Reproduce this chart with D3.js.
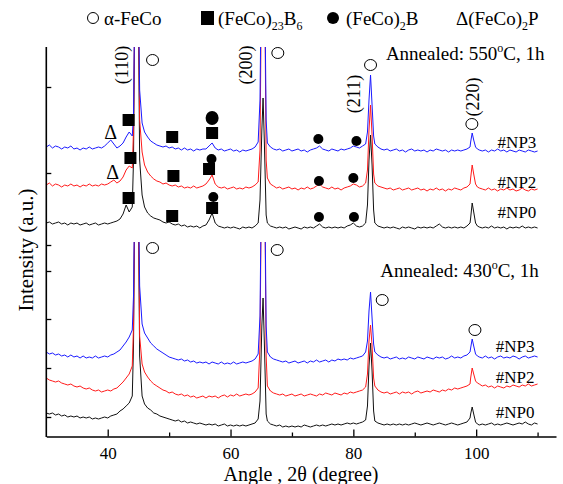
<!DOCTYPE html>
<html><head><meta charset="utf-8">
<script src="https://cdn.jsdelivr.net/npm/d3@7"></script>
<style>
body{margin:0;background:#fff}
svg{display:block}
text{font-family:"Liberation Serif","Times New Roman",serif;fill:#000}
</style>
</head><body><svg id="chart" width="563" height="484"></svg>
<script>
// ---- DATA ----
const angles = [
 30,30.5,31,31.5,32,32.5,33,33.5,34,34.5,35,35.5,36,36.5,37,37.5,38,38.5,39,39.5,40,40.5,41,41.5,42,42.5,43,43.5,44,
 44.2,44.5,44.7,44.9,45.2,45.6,
 46,46.5,47,47.5,48,48.5,49,49.5,50,50.5,51,51.5,52,52.5,53,53.5,54,54.5,55,55.5,56,56.5,57,57.5,58,58.5,59,59.5,60,60.5,61,61.5,62,62.5,63,63.5,64,64.5,
 64.8,65.1,65.3,65.5,65.8,
 66,66.5,67,67.5,68,68.5,69,69.5,70,70.5,71,71.5,72,72.5,73,73.5,74,74.5,75,75.5,76,76.5,77,77.5,78,78.5,79,79.5,80,80.5,81,81.5,82,
 82.3,82.55,82.8,83.05,83.3,
 83.5,84,84.5,85,85.5,86,86.5,87,87.5,88,88.5,89,89.5,90,90.5,91,91.5,92,92.5,93,93.5,94,94.5,95,95.5,96,96.5,97,97.5,98,98.5,99,
 99.1,99.35,99.6,99.9,100.2,
 100.5,101,101.5,102,102.5,103,103.5,104,104.5,105,105.5,106,106.5,107,107.5,108,108.5,109,109.5,110
];

// Annealed 550 °C (upper panel), stacked intensities (a.u.)
const np3_550 = [
 93,95,92,94,93,91,93,92,94,91, 92,90,92,91,93,91,92,93,92,94, 97,100,96,92,94,97,103,108,104,
 125,300,400,300,150,117,
 108,103,99,97,95,94,93,94,92,93, 91,92,90,92,90,91,89,91,90,91, 91,94,97,92,90,91,89,90,91,89, 90,88,90,89,90,91,93,98,
 140,320,400,300,120,
 97,93,91,90,91,89,90,91,89,90, 91,89,90,88,90,91,92,94,91,90, 89,91,90,89,91,90,91,92,94,93, 92,94,96,
 108,140,165,135,104,
 96,93,91,90,91,89,90,91,89,90, 88,90,91,89,90,89,90,88,90,89, 91,90,89,90,88,90,89,90,89,90, 91,93,
 98,107,100,93,91,
 90,89,90,88,90,89,91,89,90,88, 90,89,88,90,89,88,90,89,88,89
];
const np2_550 = [
 55,57,54,56,55,53,55,54,56,54, 55,53,55,54,56,54,55,54,56,55, 56,58,60,57,59,63,70,74,72,
 110,300,400,300,120,88,
 75,68,64,61,59,58,56,57,55,54, 55,53,54,52,53,52,54,52,53,54, 56,60,65,56,53,52,53,51,52,53, 51,52,51,53,52,53,55,58,
 90,300,400,300,80,
 62,56,54,52,53,51,52,53,51,52, 50,52,51,53,51,52,54,56,53,52, 51,53,51,52,50,52,53,54,56,55, 53,54,57,
 70,110,135,105,66,
 57,54,53,52,51,52,50,51,52,50, 51,52,50,51,52,50,51,49,51,50, 52,50,51,49,51,50,52,51,50,52, 53,56,
 62,75,66,56,53,
 52,51,50,52,50,51,49,51,50,52, 50,51,49,50,52,50,49,51,50,51
];
const np0_550 = [
 17,18,16,17,18,16,17,15,17,16, 17,15,16,17,15,16,17,15,16,17, 16,17,18,19,21,26,35,28,33,
 80,300,400,300,80,45,
 33,27,24,22,21,20,18,17,18,16, 15,16,14,15,13,14,13,14,12,14, 15,20,27,17,14,13,12,13,12,13, 12,11,13,12,13,12,14,17,
 40,110,142,100,25,
 17,14,13,12,13,12,13,11,12,13, 12,11,13,12,13,12,14,16,13,12, 13,12,13,12,13,12,14,15,17,14, 13,14,17,
 35,80,105,75,30,
 17,14,13,12,13,12,13,12,11,13, 12,13,12,11,13,12,13,12,13,12, 14,16,13,12,13,12,13,12,13,12, 14,17,
 22,37,28,17,14,
 13,12,13,12,14,12,13,12,13,11, 13,12,13,12,14,12,13,12,13,12
];

// Annealed 430 °C (lower panel)
const np3_430 = [
 84,82,83,81,82,80,81,79,81,79, 80,78,80,78,79,78,80,78,79,80, 79,81,82,84,86,90,94,99,106,
 140,300,400,300,150,112,
 103,98,93,90,87,85,83,81,79,78, 77,76,77,75,76,74,75,73,74,73, 74,72,74,73,72,74,72,73,72,74, 72,73,74,73,74,75,77,82,
 120,300,400,300,110,
 84,79,77,76,75,74,75,73,74,75, 73,74,75,73,75,74,76,74,75,76, 74,76,75,77,76,77,76,78,77,78, 79,80,84,
 95,125,144,118,92,
 84,81,79,78,79,77,78,79,77,78, 77,79,78,77,79,78,77,79,78,77, 79,78,79,77,78,80,78,79,78,80, 81,84,
 88,97,90,82,80,
 79,78,80,78,79,77,79,80,78,79, 78,80,79,77,79,80,78,79,80,79
];
const np2_430 = [
 58,56,55,54,55,53,52,51,52,50, 49,50,48,47,48,46,45,46,44,45, 46,45,47,48,51,54,58,62,70,
 110,300,400,300,100,72,
 64,59,55,52,50,48,46,45,43,44, 42,41,42,40,41,39,40,38,39,40, 38,40,39,40,38,40,41,39,41,40, 42,40,41,42,41,42,44,48,
 90,300,400,300,80,
 50,45,43,42,41,42,40,41,42,40, 41,42,40,41,42,41,40,42,41,43, 42,41,43,42,41,43,42,44,43,44, 45,46,49,
 62,95,111,90,58,
 50,46,44,43,44,42,43,44,42,44, 43,44,42,44,45,43,44,45,44,46, 45,44,46,45,47,46,48,47,48,49, 50,52,
 58,68,62,55,53,
 52,50,51,49,50,48,50,49,48,50, 49,51,50,49,51,50,52,50,51,52
];
const np0_430 = [
 23,22,23,21,22,20,21,19,20,19, 20,18,19,18,19,17,18,17,18,19, 18,20,21,22,25,27,30,33,40,
 90,300,400,300,80,40,
 32,28,26,23,22,20,19,18,17,16, 15,16,14,15,13,14,13,12,13,12, 11,12,11,12,10,11,12,10,11,10, 11,10,11,10,11,12,13,17,
 35,110,138,95,22,
 15,12,11,10,11,9,10,9,10,9, 10,9,11,10,9,10,11,10,11,10, 11,12,11,12,11,12,13,12,13,12, 13,14,16,
 30,70,93,65,25,
 15,13,12,11,12,11,12,11,12,11, 12,11,12,13,12,11,12,13,12,11, 12,13,12,11,12,13,12,11,12,13, 14,18,
 22,29,22,14,12,
 11,12,11,12,13,11,12,11,12,13, 12,11,12,13,12,14,12,11,13,12
];

const sampleNames = ["#NP3", "#NP2", "#NP0"];
const seriesColors = ["#1a1aff", "#ff1a1a", "#111111"];
const xMajorTicks = [40, 60, 80, 100];
const xMinorTicks = [50, 70, 90, 110];
const yTicksTop = [67, 153];
const yTicksBottom = [19, 68, 117, 165, 191];

// annotations (angle, intensity level)
const hklLabels = ["(110)", "(200)", "(211)", "(220)"];
const hklAngles = [42.3, 62.6, 80.1, 99.5];
const hklLevels = [175, 175, 146, 143];
const fecoTopAngles = [47.3, 67.7, 82.8, 99.3];
const fecoTopLevels = [180, 187, 175, 116];
const fecoBotAngles = [47.3, 67.6, 84.7, 99.8];
const fecoBotLevels = [188, 186, 136, 106];
const b23Angles = [43.4, 50.5, 57.0, 43.7, 50.7, 56.5, 43.4, 50.5, 57.0];
const b23Levels = [120, 103, 107, 82, 64, 71, 42, 24, 32];
const b2Angles = [56.9, 57.2, 74.3, 80.5, 74.4, 80.0, 74.4, 80.1];
const b2Levels = [81, 43, 101, 99, 59, 62, 23, 23];
const b2BigAngles = [57.0];
const b2BigLevels = [122];
const pAngles = [40.5, 40.8];
const pLevels = [108, 68];
const nameLevelsTop = [92, 52, 22];
const nameLevelsBottom = [84, 53, 18];

// ---- DRAW ----
const svg = d3.select("#chart");
const x = d3.scaleLinear().domain([30, 113]).range([46.3, 556]);
const yTop = d3.scaleLinear().domain([0, 193]).range([240, 47]);
const yBot = d3.scaleLinear().domain([0, 194]).range([436, 242]);

const defs = svg.append("defs");
defs.append("clipPath").attr("id", "clipTop").append("rect")
  .attr("x", 46.3).attr("y", 47).attr("width", 510).attr("height", 194);
defs.append("clipPath").attr("id", "clipBot").append("rect")
  .attr("x", 46.3).attr("y", 242).attr("width", 510).attr("height", 194.5);

function drawPanel(seriesList, y, clipId) {
  const g = svg.append("g").attr("clip-path", `url(#${clipId})`);
  [2, 1, 0].forEach(i => {
    const vals = seriesList[i];
    const pts = angles.map((a, k) => [a, vals[k]]).filter(d => d[1] !== undefined);
    g.append("path")
      .datum(pts)
      .attr("fill", "none")
      .attr("stroke", seriesColors[i])
      .attr("stroke-width", 1)
      .attr("stroke-linejoin", "round")
      .attr("d", d3.line().x(d => x(d[0])).y(d => y(d[1])));
  });
}
drawPanel([np3_550, np2_550, np0_550], yTop, "clipTop");
drawPanel([np3_430, np2_430, np0_430], yBot, "clipBot");

// axes
const xAxisMajor = d3.axisBottom(x).tickValues(xMajorTicks).tickSize(-7).tickSizeOuter(0).tickPadding(10);
const gx = svg.append("g").attr("transform", "translate(0,436.5)").call(xAxisMajor);
gx.select(".domain").attr("stroke-width", 1.6);
gx.selectAll(".tick line").attr("stroke-width", 1.3);
gx.selectAll(".tick text").attr("font-size", 17).attr("font-family", "Liberation Serif, serif").attr("dy", "0.71em");
const xAxisMinor = d3.axisBottom(x).tickValues(xMinorTicks).tickSize(-4).tickFormat("");
const gxm = svg.append("g").attr("transform", "translate(0,436.5)").call(xAxisMinor);
gxm.select(".domain").remove();
gxm.selectAll(".tick line").attr("stroke-width", 1.3);

svg.append("line").attr("x1", 46.3).attr("x2", 46.3).attr("y1", 47).attr("y2", 437)
  .attr("stroke", "#000").attr("stroke-width", 1.6);
[[yTop, yTicksTop], [yBot, yTicksBottom]].forEach(([sc, tv]) => {
  const ga = svg.append("g").attr("transform", "translate(46.3,0)")
    .call(d3.axisLeft(sc).tickValues(tv).tickSize(-5).tickFormat(""));
  ga.select(".domain").remove();
  ga.selectAll(".tick line").attr("stroke-width", 1.3);
});

svg.append("text").attr("x", 301).attr("y", 481).attr("text-anchor", "middle")
  .attr("font-size", 20).text("Angle , 2θ (degree)");
svg.append("text").attr("transform", "translate(33,250) rotate(-90)")
  .attr("text-anchor", "middle").attr("font-size", 21).text("Intensity (a.u.)");

// legend
const lg = svg.append("g");
lg.append("circle").attr("cx", 93).attr("cy", 18).attr("r", 5.5).attr("fill", "none").attr("stroke", "#000").attr("stroke-width", 1);
lg.append("text").attr("x", 104).attr("y", 25).attr("font-size", 19).text("α-FeCo");
lg.append("rect").attr("x", 201).attr("y", 11).attr("width", 13).attr("height", 14).attr("fill", "#000");
const t2 = lg.append("text").attr("x", 218).attr("y", 25).attr("font-size", 19);
t2.append("tspan").text("(FeCo)");
t2.append("tspan").attr("font-size", 12).attr("dy", 5).text("23");
t2.append("tspan").attr("dy", -5).text("B");
t2.append("tspan").attr("font-size", 12).attr("dy", 5).text("6");
lg.append("circle").attr("cx", 333).attr("cy", 18).attr("r", 6).attr("fill", "#000");
const t3 = lg.append("text").attr("x", 346).attr("y", 25).attr("font-size", 19);
t3.append("tspan").text("(FeCo)");
t3.append("tspan").attr("font-size", 12).attr("dy", 5).text("2");
t3.append("tspan").attr("dy", -5).text("B");
const t4 = lg.append("text").attr("x", 456).attr("y", 25).attr("font-size", 19);
t4.append("tspan").text("Δ(FeCo)");
t4.append("tspan").attr("font-size", 12).attr("dy", 5).text("2");
t4.append("tspan").attr("dy", -5).text("P");

// hkl labels
hklLabels.forEach((lab, i) => {
  svg.append("text")
    .attr("transform", `translate(${x(hklAngles[i])},${yTop(hklLevels[i])}) rotate(-90)`)
    .attr("text-anchor", "middle").attr("dominant-baseline", "central")
    .attr("font-size", 18).text(lab);
});
function openCircles(angs, levs, y) {
  angs.forEach((a, i) => svg.append("ellipse").attr("cx", x(a)).attr("cy", y(levs[i]))
    .attr("rx", 6).attr("ry", 5.5).attr("fill", "none").attr("stroke", "#000").attr("stroke-width", 1));
}
openCircles(fecoTopAngles, fecoTopLevels, yTop);
openCircles(fecoBotAngles, fecoBotLevels, yBot);
b23Angles.forEach((a, i) => svg.append("rect").attr("x", x(a) - 6).attr("y", yTop(b23Levels[i]) - 6)
  .attr("width", 12).attr("height", 12).attr("fill", "#000"));
b2Angles.forEach((a, i) => svg.append("circle").attr("cx", x(a)).attr("cy", yTop(b2Levels[i])).attr("r", 5).attr("fill", "#000"));
b2BigAngles.forEach((a, i) => svg.append("ellipse").attr("cx", x(a)).attr("cy", yTop(b2BigLevels[i])).attr("rx", 6.5).attr("ry", 7).attr("fill", "#000"));
pAngles.forEach((a, i) => svg.append("text").attr("x", x(a)).attr("y", yTop(pLevels[i]))
  .attr("text-anchor", "middle").attr("dominant-baseline", "central").attr("font-size", 20).text("Δ"));

sampleNames.forEach((n, i) => {
  svg.append("text").attr("x", x(109.8)).attr("y", yTop(nameLevelsTop[i])).attr("text-anchor", "end").attr("font-size", 17).text(n);
  svg.append("text").attr("x", x(109.5)).attr("y", yBot(nameLevelsBottom[i])).attr("text-anchor", "end").attr("font-size", 17).text(n);
});

function cond(temp, ang, lev, y) {
  const t = svg.append("text").attr("x", x(ang)).attr("y", y(lev)).attr("font-size", 19);
  t.append("tspan").text("Annealed: " + temp);
  t.append("tspan").attr("font-size", 12).attr("dy", -8).text("o");
  t.append("tspan").attr("dy", 8).text("C, 1h");
}
cond("550", 85.3, 180, yTop);
cond("430", 84.4, 159, yBot);
</script>
</body></html>
